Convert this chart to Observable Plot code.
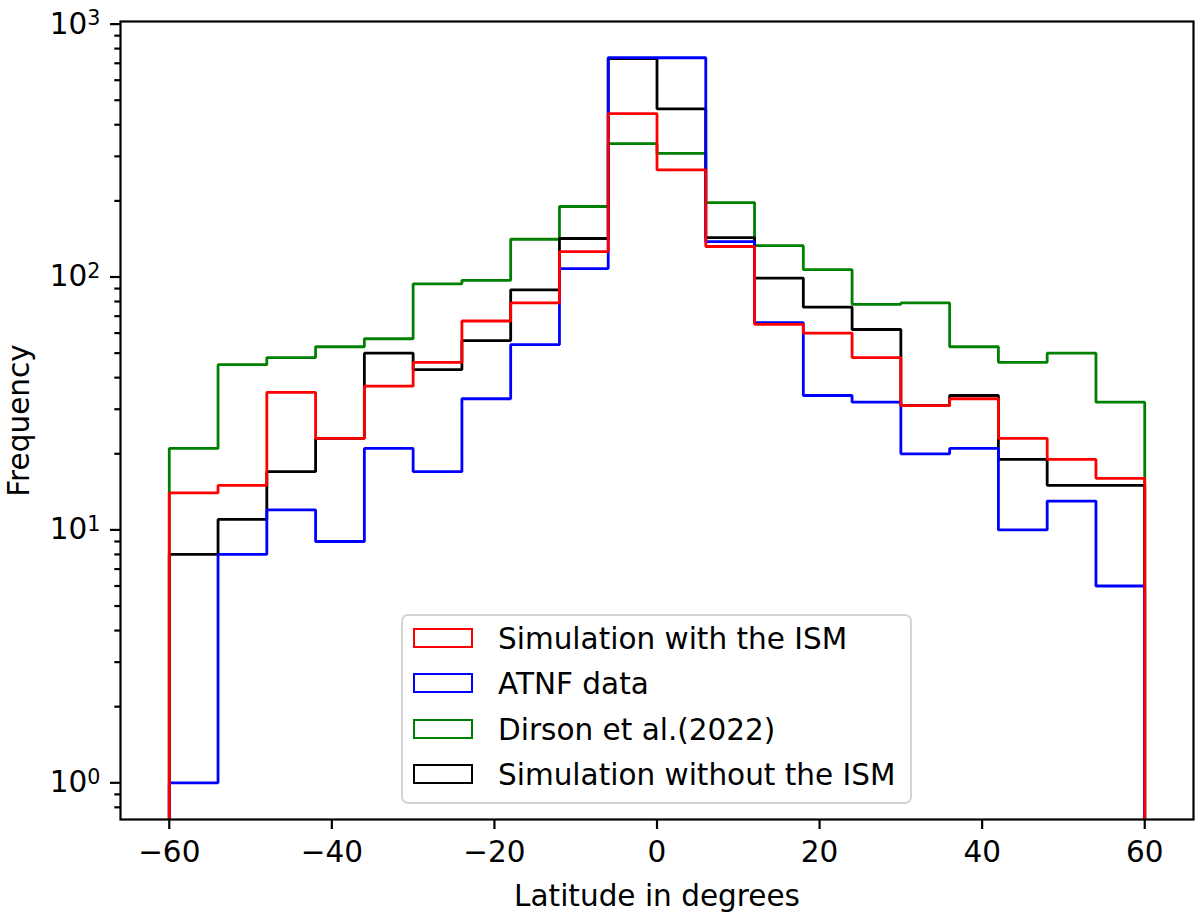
<!DOCTYPE html>
<html>
<head>
<meta charset="utf-8">
<script src="https://cdn.jsdelivr.net/npm/d3@7"></script>
<script src="https://cdn.jsdelivr.net/npm/@observablehq/plot@0.6"></script>
<style>
  body { margin: 0; background: #fff; }
  #chart { position: relative; width: 1200px; height: 921px; font-family: "DejaVu Sans", sans-serif; }
  #legend {
    position: absolute; left: 401px; top: 614px; width: 507px; height: 186px;
    border: 2px solid #d4d4d4; border-radius: 7px; background: rgba(255,255,255,0.8);
  }
  .item { position: absolute; left: 0; height: 30px; display: flex; align-items: center; }
  .swatch { position: absolute; left: 10px; width: 56px; height: 16px; border: 2.8px solid; }
  .label { position: absolute; left: 95px; font-size: 29.5px; white-space: nowrap; line-height: 30px; color: #000; }
</style>
</head>
<body>
<div id="chart"></div>
<script>
// bins of 6 degrees
const binEdges = [-60, -54, -48, -42, -36, -30, -24, -18, -12, -6, 0, 6, 12, 18, 24, 30, 36, 42, 48, 54, 60];

// counts per bin
const simWithISM = [14, 15, 35, 23, 37, 46, 67, 79, 126, 443, 265, 132, 65, 60, 48, 31, 33, 23, 19, 16];
const atnfData = [1, 8, 12, 9, 21, 17, 33, 54, 108, 737, 736, 138, 66, 34, 32, 20, 21, 10, 13, 6];
const dirson2022 = [21, 45, 48, 53, 57, 94, 97, 141, 190, 337, 308, 197, 133, 107, 78, 79, 53, 46, 50, 32];
const simWithoutISM = [8, 11, 17, 23, 50, 43, 56, 89, 142, 730, 462, 143, 99, 76, 62, 31, 34, 19, 15, 15];

const seriesNames = ["Simulation with the ISM", "ATNF data", "Dirson et al.(2022)", "Simulation without the ISM"];
const seriesColors = ["#ff0000", "#0000ff", "#008000", "#000000"];

// ticks
const xTicks = [-60, -40, -20, 0, 20, 40, 60];
const yMajor = [1, 10, 100, 1000];
const yMinorSteps = [2, 3, 4, 5, 6, 7, 8, 9];
const yMinor = [0.8, 0.9].concat(...[1, 10, 100].map(d => yMinorSteps.map(k => k * d)));

// outline of a step histogram, dropping below the axis at both ends
function stepOutline(counts) {
  const floor = 0.3;
  const pts = [{x: binEdges[0], y: floor}];
  counts.forEach((c, i) => pts.push({x: binEdges[i], y: c}));
  pts.push({x: binEdges[binEdges.length - 1], y: counts[counts.length - 1]});
  pts.push({x: binEdges[binEdges.length - 1], y: floor});
  return pts;
}

function stepLine(counts, color) {
  return Plot.line(stepOutline(counts), {
    x: "x", y: "y", curve: "step-after", stroke: color, strokeWidth: 2.8,
    strokeLinejoin: "miter", clip: true
  });
}

const chart = Plot.plot({
  width: 1200,
  height: 921,
  marginLeft: 120,
  marginRight: 7,
  marginTop: 21,
  marginBottom: 102,
  style: {fontFamily: "DejaVu Sans", fontSize: "29.5px", color: "#000", background: "transparent"},
  x: {domain: [-66, 66]},
  y: {type: "log", domain: [0.716, 1024]},
  marks: [
    stepLine(dirson2022, seriesColors[2]),
    stepLine(simWithoutISM, seriesColors[3]),
    stepLine(atnfData, seriesColors[1]),
    stepLine(simWithISM, seriesColors[0]),
    Plot.axisX({
      ticks: xTicks, tickSize: 10, tickPadding: 12, strokeWidth: 2.2,
      tickFormat: d => (d < 0 ? "\u2212" + Math.abs(d) : String(d)),
      label: "Latitude in degrees", labelAnchor: "center", labelArrow: "none", labelOffset: 86
    }),
    Plot.axisY({
      ticks: yMajor, tickSize: 10, tickPadding: 10, strokeWidth: 2.2,
      tickFormat: d => "10^" + Math.round(Math.log10(d)),
      label: "Frequency", labelAnchor: "center", labelArrow: "none", labelOffset: 112
    }),
    Plot.axisY({ticks: yMinor, tickSize: 5.7, strokeWidth: 2.2, tickFormat: () => "", label: null}),
    Plot.frame({stroke: "#000", strokeWidth: 2.2})
  ]
});

// turn "10^k" tick labels into a real superscript
d3.select(chart).selectAll("text").each(function () {
  const t = this.textContent;
  const m = /^10\^(-?\d+)$/.exec(t);
  if (!m) return;
  const sel = d3.select(this);
  sel.text("10");
  sel.append("tspan").attr("dy", "-0.42em").attr("font-size", "70%").text(m[1]);
});

const container = document.getElementById("chart");
container.appendChild(chart);

// legend inside the axes, drawn as an overlay
const legend = document.createElement("div");
legend.id = "legend";
const rowCenters = [22.8, 68.3, 113.7, 159];
seriesNames.forEach((name, i) => {
  const item = document.createElement("div");
  item.className = "item";
  item.style.top = (rowCenters[i] - 15) + "px";
  item.innerHTML = `<span class="swatch" style="border-color:${seriesColors[i]};top:4px"></span><span class="label">${name}</span>`;
  legend.appendChild(item);
});
container.appendChild(legend);
</script>
</body>
</html>
